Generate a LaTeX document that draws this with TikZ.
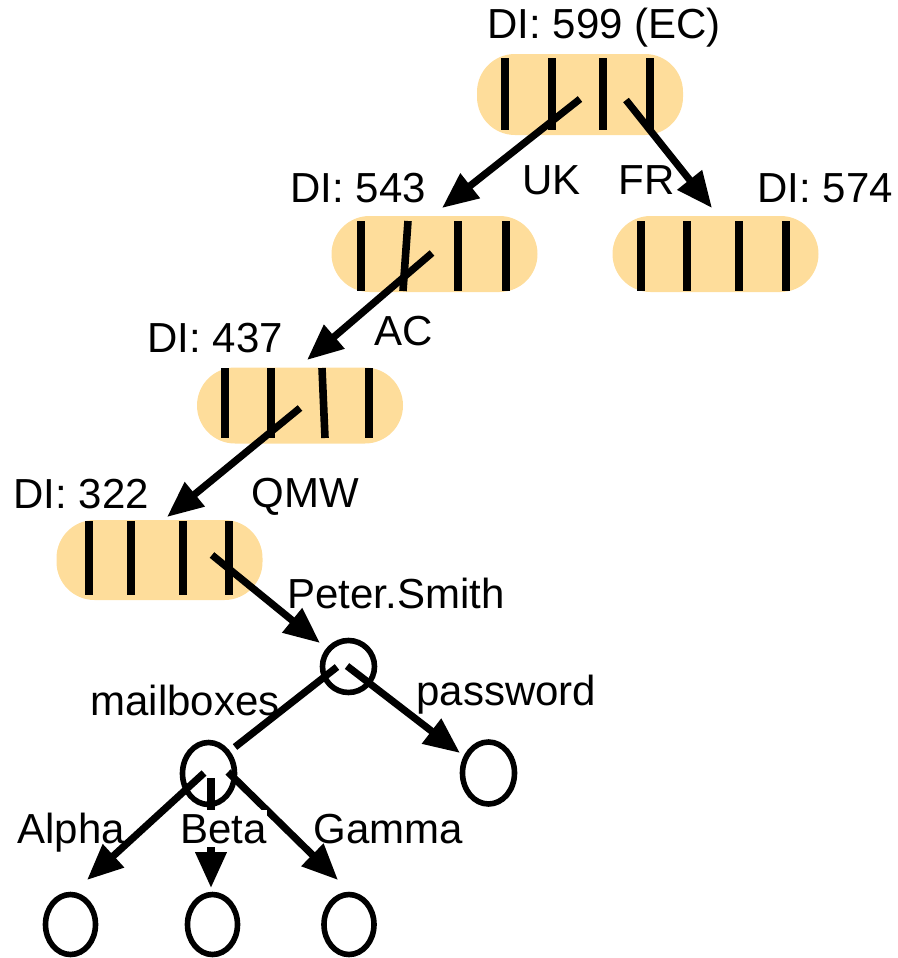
\documentclass[tikz,border=0pt]{standalone}
\usepackage{fontspec}
\setmainfont{Liberation Sans}
\usetikzlibrary{arrows.meta,shapes.geometric}
\definecolor{pillc}{RGB}{254,221,155}
\begin{document}
\begin{tikzpicture}[x=0.5pt,y=-0.5pt,
  pill/.style={fill=pillc, rounded corners=19pt, minimum width=103pt, minimum height=38pt, inner sep=0pt},
  bar/.style={line width=3.8pt},
  arr/.style={line width=3.6pt, -{Triangle[length=18pt,width=15pt]}},
  lnk/.style={line width=3.6pt},
  lbl/.style={anchor=base west, inner sep=0pt, font=\fontsize{21}{25}\selectfont},
  vert/.style={draw, ellipse, line width=2.8pt, inner sep=0pt, minimum width=26pt, minimum height=31pt}]
\useasboundingbox (0,0) rectangle (898,958);

% directory pills
\node[pill, minimum height=40.5pt] (ec) at (580,94.5) {};
\node[pill] (uk) at (434.5,254) {};
\node[pill] (fr) at (715.5,254) {};
\node[pill] (ac) at (300,405.5) {};
\node[pill, minimum height=40pt] (qmw) at (159.5,560) {};

% bars
\foreach \x in {505,552,603,650} \draw[bar] (\x,58) -- (\x,130);
\draw[bar] (361,221) -- (361,291);
\draw[bar] (408,221) -- (403,291);
\draw[bar] (458,221) -- (458,291);
\draw[bar] (506,221) -- (506,291);
\foreach \x in {641,687,739,786} \draw[bar] (\x,221) -- (\x,291);
\draw[bar] (225,368) -- (225,438);
\draw[bar] (271,368) -- (271,438);
\draw[bar] (322,368) -- (325,438);
\draw[bar] (369,368) -- (369,438);
\foreach \x in {89,131,183,229} \draw[bar] (\x,521) -- (\x,595);

% tree vertices
\node[vert, minimum height=26pt] (ps) at (348.5,666.5) {};
\node[vert] (mb) at (208.5,773.5) {};
\node[vert] (pw) at (488.5,773) {};
\node[vert, minimum width=25pt, minimum height=30pt] (al) at (70.5,924.5) {};
\node[vert, minimum width=25pt, minimum height=30pt] (be) at (212.5,924.5) {};
\node[vert, minimum width=25pt, minimum height=30pt] (ga) at (349,924.5) {};

% connector end points
\coordinate (ukS) at (580,99);   \coordinate (ukT) at (442,208);
\coordinate (frS) at (626,100);  \coordinate (frT) at (712,208);
\coordinate (acS) at (432,253);  \coordinate (acT) at (307,360);
\coordinate (qmS) at (300,408);  \coordinate (qmT) at (167,517);
\coordinate (psS) at (212,555);  \coordinate (psT) at (320,643);
\coordinate (mbS) at (337,667);  \coordinate (mbT) at (235,747);
\coordinate (pwS) at (347,666);  \coordinate (pwT) at (460,753);
\coordinate (alS) at (204,773);  \coordinate (alT) at (87,880);
\coordinate (beS) at (211,778);  \coordinate (beT) at (211,888);
\coordinate (gaS) at (228,772);  \coordinate (gaT) at (338,880);

\draw[arr] (ukS) -- (ukT);
\draw[arr] (frS) -- (frT);
\draw[arr] (acS) -- (acT);
\draw[arr] (qmS) -- (qmT);
\draw[arr] (psS) -- (psT);
\draw[lnk] (mbS) -- (mbT);
\draw[arr] (pwS) -- (pwT);
\draw[arr] (alS) -- (alT);
\draw[arr] (beS) -- (beT);
\draw[arr] (gaS) -- (gaT);

% labels
\node[lbl] (l599) at (487,39) {DI: 599 (EC)};
\node[lbl] (l543) at (290,202) {DI: 543};
\node[lbl] (lUK) at (522,194) {UK};
\node[lbl] (lFR) at (618,194) {FR};
\node[lbl] (l574) at (757,202) {DI: 574};
\node[lbl] (l437) at (147,352) {DI: 437};
\node[lbl] (lAC) at (374,345) {AC};
\node[lbl] (l322) at (13,508) {DI: 322};
\node[lbl] (lQMW) at (251,507) {QMW};
\node[lbl] (lPS) at (287,608) {Peter.Smith};
\node[lbl] (lmb) at (90,715) {mailboxes};
\node[lbl] (lpw) at (416,705) {password};
\node[lbl] (lal) at (17,843) {Alpha};
\node[lbl, fill=white, inner ysep=2pt] (lbe) at (180,843) {Beta};
\node[lbl] (lga) at (313,843) {Gamma};
\end{tikzpicture}
\end{document}
